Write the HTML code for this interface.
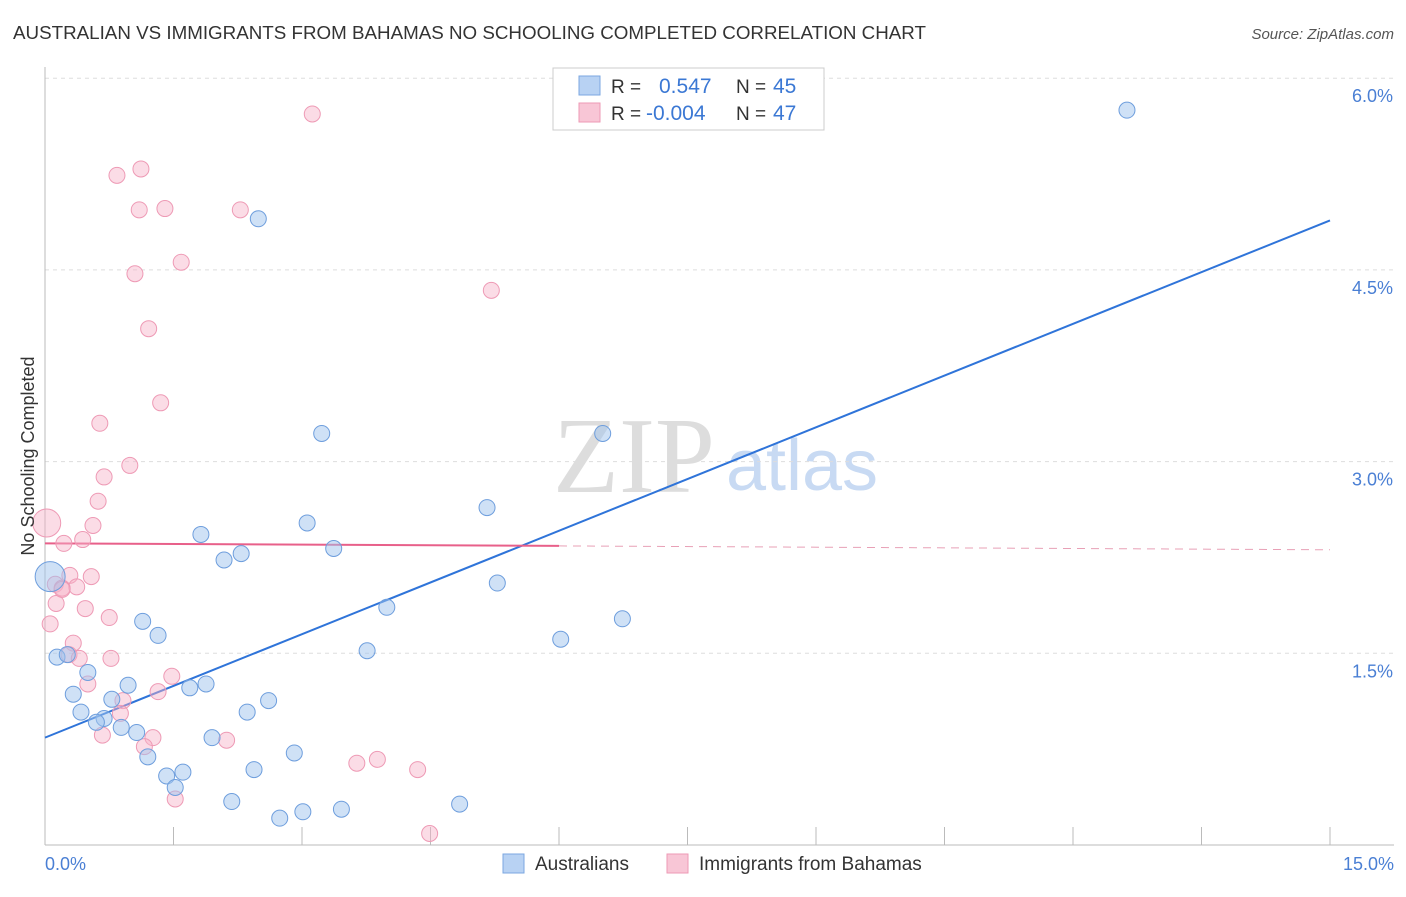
<!DOCTYPE html>
<html><head><meta charset="utf-8"><style>
body{margin:0;background:#fff;width:1406px;height:892px;overflow:hidden;font-family:"Liberation Sans",sans-serif}
</style></head><body>
<svg id="chart" width="1406" height="892" xmlns="http://www.w3.org/2000/svg" font-family="Liberation Sans, sans-serif">
<text x="13" y="39" font-size="18" fill="#333" textLength="913" lengthAdjust="spacingAndGlyphs">AUSTRALIAN VS IMMIGRANTS FROM BAHAMAS NO SCHOOLING COMPLETED CORRELATION CHART</text>
<text x="1394" y="39" font-size="15" fill="#555" font-style="italic" text-anchor="end">Source: ZipAtlas.com</text>
<g>
<text x="634" y="492" font-size="108" fill="#ddd" font-family="Liberation Serif, serif" text-anchor="middle">ZIP</text>
<text x="802" y="490" font-size="72" fill="#c8daf3" text-anchor="middle">atlas</text>
</g>
<g id="grid"></g>
<g id="axes"></g>
<g id="lines"></g>
<g id="points"></g>
<text transform="translate(34,456) rotate(-90)" font-size="18" fill="#333" text-anchor="middle">No Schooling Completed</text>
<text x="45" y="870" font-size="18" fill="#4a7fd4">0.0%</text>
<text x="1394" y="870" font-size="18" fill="#4a7fd4" text-anchor="end">15.0%</text>
<g>
<rect x="553" y="68" width="271" height="62" fill="#fff" stroke="#ccc"/>
<rect x="579" y="76" width="21" height="19" fill="#b8d2f3" stroke="#7ba7e0"/>
<rect x="579" y="103" width="21" height="19" fill="#f8c6d6" stroke="#ee9ab5"/>
<text x="611" y="93" font-size="19" fill="#333">R =</text>
<text x="659" y="93" font-size="21" fill="#3b78d4">0.547</text>
<text x="736" y="93" font-size="19" fill="#333">N =</text>
<text x="773" y="93" font-size="21" fill="#3b78d4">45</text>
<text x="611" y="120" font-size="19" fill="#333">R =</text>
<text x="646" y="120" font-size="21" fill="#3b78d4">-0.004</text>
<text x="736" y="120" font-size="19" fill="#333">N =</text>
<text x="773" y="120" font-size="21" fill="#3b78d4">47</text>
</g>
<g>
<rect x="503" y="854" width="21" height="19" fill="#b8d2f3" stroke="#7ba7e0"/>
<text x="535" y="870" font-size="19" fill="#333">Australians</text>
<rect x="667" y="854" width="21" height="19" fill="#f8c6d6" stroke="#ee9ab5"/>
<text x="699" y="870" font-size="19" fill="#333">Immigrants from Bahamas</text>
</g>
</svg>
<script>
const yTicks=[1.5,3.0,4.5,6.0];
const yTickLabels=["1.5%","3.0%","4.5%","6.0%"];
const xTicks=[1.5,3,4.5,6,7.5,9,10.5,12,13.5,15];
const blueX=[12.63,2.49,3.23,6.51,5.16,3.06,1.82,3.37,2.29,2.09,5.28,3.99,6.74,1.14,1.32,6.02,3.76,0.14,0.26,0.50,0.97,1.88,1.69,0.33,0.78,2.61,2.36,0.42,0.69,0.60,0.89,1.07,1.95,2.91,1.20,1.61,1.42,2.44,1.52,2.18,4.84,3.46,3.01,2.74,0.06];
const blueY=[5.75,4.90,3.22,3.22,2.64,2.52,2.43,2.32,2.28,2.23,2.05,1.86,1.77,1.75,1.64,1.61,1.52,1.47,1.49,1.35,1.25,1.26,1.23,1.18,1.14,1.13,1.04,1.04,0.99,0.96,0.92,0.88,0.84,0.72,0.69,0.57,0.54,0.59,0.45,0.34,0.32,0.28,0.26,0.21,2.10];
const pinkX=[3.12,1.12,0.84,1.10,1.40,2.28,1.59,1.05,1.21,5.21,1.35,0.64,0.99,0.69,0.62,0.56,0.02,0.22,0.44,0.54,0.29,0.37,0.12,0.20,0.13,0.47,0.75,0.06,0.33,0.28,0.40,0.77,1.48,0.50,1.32,0.91,0.88,0.67,1.26,1.16,2.12,3.64,3.88,4.35,1.52,4.49,0.20];
const pinkY=[5.72,5.29,5.24,4.97,4.98,4.97,4.56,4.47,4.04,4.34,3.46,3.30,2.97,2.88,2.69,2.50,2.52,2.36,2.39,2.10,2.11,2.02,2.04,2.01,1.89,1.85,1.78,1.73,1.58,1.49,1.46,1.46,1.32,1.26,1.20,1.13,1.03,0.86,0.84,0.77,0.82,0.64,0.67,0.59,0.36,0.09,2.00];
const pinkSolidEnd=6.0;
const bigBlue=44, bigPink=16;
const X=v=>45+v/15*1285, Y=v=>845-v*127.8;
const NS='http://www.w3.org/2000/svg';
function mk(t,a,p){const e=document.createElementNS(NS,t);for(const k in a)e.setAttribute(k,a[k]);p.appendChild(e);return e;}
const grid=document.getElementById('grid'),axes=document.getElementById('axes'),lines=document.getElementById('lines'),pts=document.getElementById('points');
yTicks.forEach((v,i)=>{
 const g=mk('line',{x1:45,x2:1394,y1:Y(v),y2:Y(v),stroke:'#ddd','stroke-dasharray':'4,4'},grid);
 
 
 const t=mk('text',{x:1393,y:Y(v)+24,'font-size':18,fill:'#4a7fd4','text-anchor':'end'},axes);
 t.textContent=yTickLabels[i];
 
 
});
const ya=mk('line',{x1:45,x2:45,y1:67,y2:845,stroke:'#bbb'},axes);


const xa=mk('line',{x1:45,x2:1394,y1:845,y2:845,stroke:'#bbb'},axes);


xTicks.forEach(v=>{
 const t=mk('line',{x1:X(v),x2:X(v),y1:827,y2:845,stroke:'#bbb'},axes);
 
 
});
function fit(xs,ys){const n=xs.length;let mx=0,my=0;for(let i=0;i<n;i++){mx+=xs[i];my+=ys[i];}mx/=n;my/=n;let sxy=0,sxx=0;for(let i=0;i<n;i++){sxy+=(xs[i]-mx)*(ys[i]-my);sxx+=(xs[i]-mx)**2;}const b=sxy/sxx;return [my-b*mx,b];}
const [ba,bb]=fit(blueX,blueY);
const bl=mk('line',{x1:X(0),y1:Y(ba),x2:X(15),y2:Y(ba+bb*15),stroke:'#2f74d9','stroke-width':2},lines);


const [pa,pb]=fit(pinkX,pinkY);
const pl=mk('line',{x1:X(0),y1:Y(pa),x2:X(pinkSolidEnd),y2:Y(pa+pb*pinkSolidEnd),stroke:'#e8608a','stroke-width':2},lines);


const pd=mk('line',{x1:X(pinkSolidEnd),y1:Y(pa+pb*pinkSolidEnd),x2:X(15),y2:Y(pa+pb*15),stroke:'#e8a0b6','stroke-width':1,'stroke-dasharray':'8,6'},lines);


pinkX.forEach((x,i)=>{
 const c=mk('circle',{cx:X(x),cy:Y(pinkY[i]),r:i===bigPink?14:8,fill:'rgba(246,178,200,0.45)',stroke:'#ee9ab5','stroke-width':1},pts);
 
 
});
blueX.forEach((x,i)=>{
 const c=mk('circle',{cx:X(x),cy:Y(blueY[i]),r:i===bigBlue?15:8,fill:'rgba(160,195,238,0.5)',stroke:'#6e9edd','stroke-width':1},pts);
 
 
});
</script>
</body></html>
